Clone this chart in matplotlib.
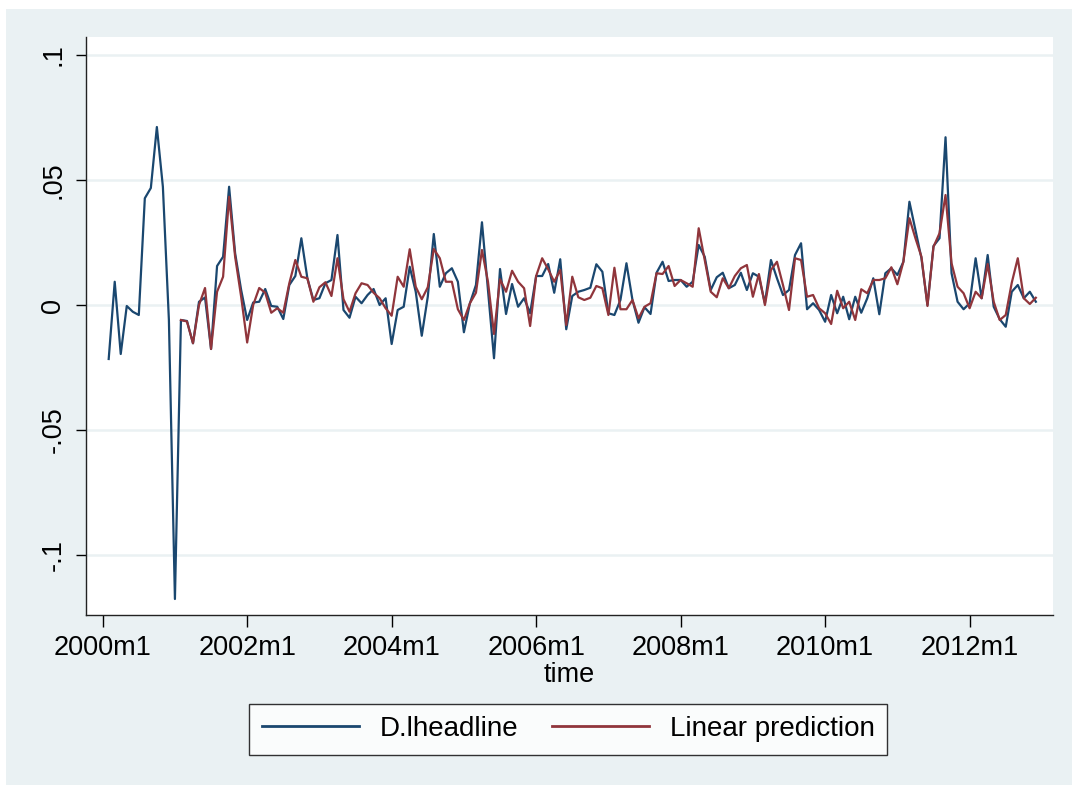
import numpy as np
import matplotlib
matplotlib.use("Agg")
from matplotlib import pyplot as plt
from matplotlib.patches import Rectangle

# monthly series, 2000m2 .. 2012m12 (months counted from 2000m1)
start_month = 1
dlheadline = [
    -0.0216, 0.0093, -0.0196, -0.0004, -0.0027, -0.0040, 0.0427, 0.0468, 0.0712, 0.0473,
    -0.0060, -0.1176, -0.0060, -0.0064, -0.0153, 0.0013, 0.0030, -0.0176, 0.0156, 0.0193,
    0.0473, 0.0207, 0.0060, -0.0060, 0.0010, 0.0013, 0.0064, -0.0004, -0.0007, -0.0056,
    0.0080, 0.0116, 0.0267, 0.0107, 0.0020, 0.0027, 0.0087, 0.0100, 0.0280, -0.0020,
    -0.0051, 0.0033, 0.0007, 0.0040, 0.0064, 0.0000, 0.0027, -0.0156, -0.0020, -0.0007,
    0.0153, 0.0053, -0.0123, 0.0033, 0.0284, 0.0073, 0.0127, 0.0147, 0.0093, -0.0109,
    0.0007, 0.0080, 0.0331, 0.0060, -0.0213, 0.0144, -0.0036, 0.0084, -0.0007, 0.0027,
    -0.0033, 0.0116, 0.0116, 0.0164, 0.0049, 0.0183, -0.0097, 0.0036, 0.0053, 0.0060,
    0.0069, 0.0163, 0.0133, -0.0033, -0.0040, 0.0020, 0.0167, 0.0020, -0.0071, -0.0009,
    -0.0036, 0.0129, 0.0173, 0.0096, 0.0100, 0.0100, 0.0073, 0.0093, 0.0240, 0.0193,
    0.0060, 0.0111, 0.0129, 0.0067, 0.0080, 0.0129, 0.0060, 0.0127, 0.0113, 0.0007,
    0.0180, 0.0107, 0.0040, 0.0060, 0.0200, 0.0247, -0.0017, 0.0007, -0.0020, -0.0067,
    0.0040, -0.0033, 0.0033, -0.0057, 0.0033, -0.0031, 0.0027, 0.0107, -0.0037, 0.0127,
    0.0147, 0.0120, 0.0173, 0.0413, 0.0300, 0.0187, 0.0000, 0.0236, 0.0267, 0.0671,
    0.0127, 0.0013, -0.0017, 0.0007, 0.0187, 0.0027, 0.0200, -0.0007, -0.0057, -0.0087,
    0.0053, 0.0080, 0.0027, 0.0053, 0.0013,
]

# prediction starts at 2001m2
pred_start = 13
prediction = [
    -0.0060, -0.0066, -0.0153, 0.0000, 0.0068, -0.0176, 0.0053, 0.0113, 0.0433, 0.0193,
    0.0033, -0.0150, 0.0000, 0.0068, 0.0049, -0.0031, -0.0013, -0.0031, 0.0087, 0.0180,
    0.0113, 0.0107, 0.0013, 0.0071, 0.0091, 0.0036, 0.0187, 0.0023, -0.0027, 0.0047,
    0.0087, 0.0080, 0.0049, 0.0027, -0.0013, -0.0043, 0.0113, 0.0073, 0.0223, 0.0073,
    0.0023, 0.0071, 0.0224, 0.0187, 0.0093, 0.0093, -0.0017, -0.0060, 0.0007, 0.0049,
    0.0220, 0.0093, -0.0116, 0.0103, 0.0053, 0.0137, 0.0093, 0.0067, -0.0084, 0.0116,
    0.0187, 0.0143, 0.0093, 0.0140, -0.0080, 0.0113, 0.0031, 0.0020, 0.0029, 0.0076,
    0.0067, -0.0040, 0.0149, -0.0017, -0.0017, 0.0020, -0.0053, -0.0007, 0.0007, 0.0127,
    0.0124, 0.0156, 0.0076, 0.0100, 0.0087, 0.0073, 0.0307, 0.0180, 0.0053, 0.0031,
    0.0107, 0.0067, 0.0116, 0.0147, 0.0160, 0.0033, 0.0124, 0.0000, 0.0140, 0.0173,
    0.0080, -0.0020, 0.0187, 0.0180, 0.0033, 0.0040, -0.0013, -0.0033, -0.0076, 0.0057,
    -0.0013, 0.0013, -0.0060, 0.0063, 0.0047, 0.0100, 0.0100, 0.0107, 0.0151, 0.0083,
    0.0173, 0.0347, 0.0267, 0.0193, -0.0004, 0.0233, 0.0287, 0.0440, 0.0167, 0.0073,
    0.0047, -0.0013, 0.0053, 0.0027, 0.0164, 0.0013, -0.0060, -0.0040, 0.0089, 0.0187,
    0.0027, 0.0004, 0.0029,
]

xtick_months = [0, 24, 48, 72, 96, 120, 144]
xtick_labels = ["2000m1", "2002m1", "2004m1", "2006m1", "2008m1", "2010m1", "2012m1"]
ytick_vals = [-0.1, -0.05, 0, 0.05, 0.1]
ytick_labels = ["-.1", "-.05", "0", ".05", ".1"]

navy = "#1A476F"
maroon = "#90353B"
bg = "#EAF1F3"

plt.rcParams['font.family'] = ['Liberation Sans', 'DejaVu Sans']

fig = plt.figure(figsize=(10.72, 7.85), dpi=100, facecolor=bg)
# thin white strips at top and left, as in the exported image
fig.patches.append(Rectangle((0, 1 - 9 / 785), 1, 9 / 785, transform=fig.transFigure,
                             facecolor="white", edgecolor="none", zorder=0))
fig.patches.append(Rectangle((0, 0), 6 / 1072, 1, transform=fig.transFigure,
                             facecolor="white", edgecolor="none", zorder=0))

ax = fig.add_axes([86 / 1072, 1 - 615 / 785, (1053.3 - 86) / 1072, (615 - 37) / 785])
ax.set_facecolor("white")

x1 = np.arange(start_month, start_month + len(dlheadline))
x2 = np.arange(pred_start, pred_start + len(prediction))
ax.plot(x1, dlheadline, color=navy, lw=1.6, label="D.lheadline", zorder=3)
ax.plot(x2, prediction, color=maroon, lw=1.6, label="Linear prediction", zorder=4)

ax.set_xlim(-2.77, 157.9)
ax.set_ylim(-0.124, 0.1072)

ax.set_yticks(ytick_vals)
ax.set_yticklabels(ytick_labels, rotation=90, va="center")
ax.set_xticks(xtick_months)
ax.set_xticklabels(xtick_labels)
ax.tick_params(axis="both", labelsize=19.5, color="black", width=1)
ax.tick_params(axis="x", length=8.4, pad=6)
ax.tick_params(axis="y", length=7.2, pad=7)

ax.grid(axis="y", color=bg, lw=1.8)
ax.set_axisbelow(True)
for s in ["top", "right"]:
    ax.spines[s].set_visible(False)
for s in ["left", "bottom"]:
    ax.spines[s].set_color("#222222")
    ax.spines[s].set_linewidth(1)

ax.set_xlabel("time", fontsize=19.5, labelpad=0.8)

leg = fig.legend(loc="center", bbox_to_anchor=(568 / 1072, 1 - 729 / 785), ncol=2,
                 fontsize=20, frameon=True, fancybox=False, handlelength=3.5,
                 handletextpad=0.75, columnspacing=1.2, borderpad=0.45)
leg.get_frame().set_edgecolor("black")
leg.get_frame().set_linewidth(1)
leg.get_frame().set_facecolor("white")
for line in leg.get_lines():
    line.set_linewidth(2)

fig.savefig("out.png", dpi=100, facecolor=fig.get_facecolor())
